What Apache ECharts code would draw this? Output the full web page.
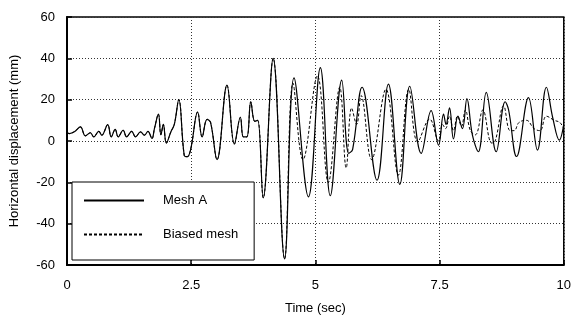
<!DOCTYPE html>
<html>
<head>
<meta charset="utf-8">
<script src="https://cdn.jsdelivr.net/npm/echarts@6/dist/echarts.min.js"></script>
<style>
html,body{margin:0;padding:0;background:#fff;}
#chart{width:574px;height:320px;}
</style>
</head>
<body>
<div id="chart"></div>
<script>
// Tick labels
const xTicks = ["0", "2.5", "5", "7.5", "10"];
const yTicks = ["-60", "-40", "-20", "0", "20", "40", "60"];

// Mesh A (time in s, displacement in mm)
const meshA_t = [0.00,0.05,0.15,0.27,0.37,0.47,0.54,0.64,0.70,0.82,0.89,0.97,1.03,1.13,1.20,1.30,1.38,1.48,1.56,1.63,1.71,1.76,1.84,1.89,1.94,2.00,2.09,2.16,2.25,2.36,2.42,2.49,2.63,2.72,2.82,2.89,3.02,3.22,3.37,3.49,3.55,3.62,3.70,3.78,3.84,3.95,4.15,4.38,4.57,4.86,5.10,5.30,5.53,5.67,5.75,5.94,6.24,6.47,6.70,6.90,7.13,7.33,7.48,7.58,7.63,7.70,7.78,7.87,7.96,8.05,8.16,8.28,8.44,8.64,8.82,8.89,9.05,9.29,9.47,9.65,9.78,9.91,10.0];
const meshA_v = [4,3.6,4.5,6.8,2.5,4,2,4.7,2.8,7.9,2,5.6,2,5.2,2,4.7,2,4.4,2.8,4.7,1.2,6,13,3,8,-1,4.4,8,20,-7,-7.6,-4,14,2,10.5,9,-9,27,-1.5,11.5,2,2,19,9.5,10,-27.5,40,-57,30.5,-27,35.5,-26.5,29.5,-6,-4,26,-19,27.5,-21,26.5,-6,14.7,-2,13,8,16,1,12,6,20.5,3,-5.2,23.5,-5.2,19,15,-7.5,21,-4.4,26,11,0.4,8];

// Biased mesh
const biased_t = [0.00,0.05,0.15,0.27,0.37,0.47,0.54,0.64,0.70,0.82,0.89,0.97,1.03,1.13,1.20,1.30,1.38,1.48,1.56,1.63,1.71,1.76,1.84,1.89,1.94,2.00,2.09,2.16,2.25,2.36,2.42,2.49,2.63,2.72,2.82,2.89,3.02,3.22,3.37,3.49,3.55,3.62,3.70,3.78,3.84,3.95,4.15,4.38,4.55,4.75,5.04,5.26,5.49,5.62,5.73,5.83,5.92,6.13,6.42,6.67,6.88,7.06,7.30,7.48,7.56,7.62,7.70,7.78,7.86,7.94,8.02,8.12,8.22,8.37,8.55,8.62,8.79,8.92,9.00,9.10,9.25,9.40,9.52,9.65,9.81,9.92,10.0];
const biased_v = [4,3.6,4.5,6.8,2.5,4,2,4.7,2.8,7.9,2,5.6,2,5.2,2,4.7,2,4.4,2.8,4.7,1.2,6,13,3,8,-1,4.4,8,20,-7,-7.6,-4,14,2,10.5,9,-9,27,-1.5,11.5,2,2,19,9.5,10,-27.5,40,-57,28,-9,31.5,-20,26,-13,16,8,22,-9,25,-16.5,25,-0.4,10.6,0,8,6,12,5,12,7,15,5,3,15,-1,0,17,5,5,9,10,6,5,12,10,9,6];

const zip = (t, v) => t.map((x, i) => [x, v[i]]);

const chart = echarts.init(document.getElementById('chart'), null, {renderer: 'canvas'});
const font = '"Liberation Sans", Arial, sans-serif';
chart.setOption({
  animation: false,
  backgroundColor: '#fff',
  grid: {left: 63, right: 8, top: 17, bottom: 52, show: true, borderColor: '#000', borderWidth: 1.5, backgroundColor: 'transparent'},
  xAxis: {
    type: 'value', min: 0, max: 10, interval: 2.5,
    name: 'Time (sec)', nameLocation: 'middle', nameGap: 37,
    nameTextStyle: {fontFamily: font, fontSize: 13, color: '#000'},
    axisLine: {onZero: false, lineStyle: {color: '#000', width: 2}},
    axisTick: {inside: true, length: 5, lineStyle: {color: '#000', width: 1.5}},
    axisLabel: {fontFamily: font, fontSize: 13, color: '#000', margin: 14,
      formatter: v => xTicks[Math.round(v / 2.5)]},
    splitLine: {show: true, lineStyle: {color: '#333', width: 1, type: [1, 2]}}
  },
  yAxis: {
    type: 'value', min: -60, max: 60, interval: 20,
    name: 'Horizontal displacement (mm)', nameLocation: 'middle', nameGap: 46,
    nameTextStyle: {fontFamily: font, fontSize: 13, color: '#000'},
    axisLine: {onZero: false, lineStyle: {color: '#000', width: 2}},
    axisTick: {inside: true, length: 5, lineStyle: {color: '#000', width: 1.5}},
    axisLabel: {fontFamily: font, fontSize: 13, color: '#000', margin: 12,
      formatter: v => yTicks[Math.round((v + 60) / 20)]},
    splitLine: {show: true, lineStyle: {color: '#333', width: 1, type: [1, 2]}}
  },
  legend: {
    orient: 'vertical', left: 72, top: 182,
    itemWidth: 60, itemHeight: 14, itemGap: 21,
    padding: [12, 16, 19, 11],
    backgroundColor: '#fff', borderColor: '#000', borderWidth: 1,
    itemStyle: {opacity: 0},
    textStyle: {fontFamily: font, fontSize: 13, color: '#000', padding: [0, 0, 0, 14]},
    data: ['Mesh A', 'Biased mesh']
  },
  series: [
    {
      name: 'Mesh A', type: 'line', data: zip(meshA_t, meshA_v),
      showSymbol: false, symbol: 'none', smooth: 0.4, z: 3,
      lineStyle: {color: '#000', width: 1.2},
      itemStyle: {color: '#000'}
    },
    {
      name: 'Biased mesh', type: 'line', data: zip(biased_t, biased_v),
      showSymbol: false, symbol: 'none', smooth: 0.4, z: 2,
      lineStyle: {color: '#000', width: 1, type: [3, 2]},
      itemStyle: {color: '#000'}
    }
  ]
});
</script>
</body>
</html>
